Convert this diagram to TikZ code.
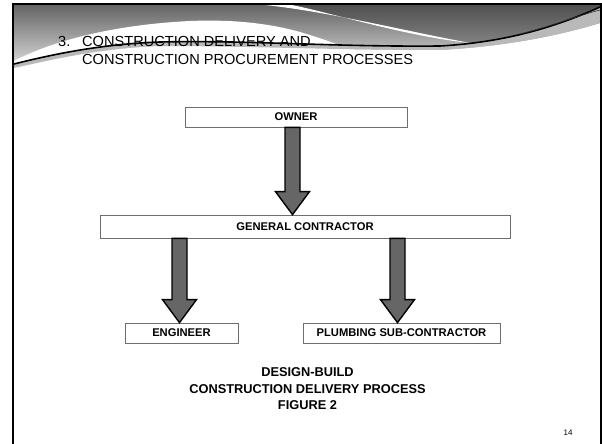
\documentclass[tikz,border=0pt]{standalone}
\usepackage{fontspec}
\setmainfont{Liberation Sans}
\usetikzlibrary{calc}
\definecolor{hdrtop}{RGB}{100,100,100}
\definecolor{hdrbot}{RGB}{222,222,222}
\definecolor{darktop}{RGB}{80,80,80}
\definecolor{darkbot}{RGB}{130,130,130}
\definecolor{bandgray}{RGB}{185,185,185}
\definecolor{arrowfill}{RGB}{102,102,102}
\definecolor{boxline}{RGB}{110,110,110}
\definecolor{titlecol}{RGB}{0,0,0}
\tikzset{
  boxnode/.style={draw=boxline, line width=0.8pt, fill=white, inner sep=0pt,
    font=\fontsize{11.2}{13}\selectfont\bfseries},
  titletext/.style={anchor=base west, inner sep=0pt, text=titlecol,
    font=\fontsize{14.6}{17}\selectfont},
  captext/.style={anchor=base, inner sep=0pt, font=\fontsize{12.8}{15}\selectfont\bfseries},
  blockarrow/.style={fill=arrowfill, draw=black, line width=1.4pt, line join=miter}
}
\newcommand{\blockarr}[3]{%
  \path let \p1=([xshift=#3]#1.south), \p2=(#2.north) in
    [blockarrow] (\x1-7.5pt,\y1) -- (\x1-7.5pt,\y2+23pt) -- (\x1-17pt,\y2+23pt)
    -- (\x1,\y2) -- (\x1+17pt,\y2+23pt) -- (\x1+7.5pt,\y2+23pt) -- (\x1+7.5pt,\y1) -- cycle;}
\begin{document}
\begin{tikzpicture}[x=1pt,y=-1pt]
\useasboundingbox (0,0) rectangle (602,444);
\fill[white] (0,0) rectangle (602,444);
% header base gradient
\shade[top color=hdrtop, bottom color=hdrbot]
  (14,5) -- (600,5) -- (600,23) .. controls (560,35) and (510,46) .. (440,50)
  .. controls (330,50) and (250,46) .. (160,46) .. controls (100,48) and (50,60) .. (14,68) -- cycle;
% white swoosh on the left
\fill[white]
  (14,61) .. controls (50,42) and (110,25) .. (190,21) .. controls (240,19) and (275,25) .. (300,32)
  .. controls (320,38) and (335,43) .. (350,50) -- (160,46) .. controls (100,48) and (50,60) .. (14,68) -- cycle;
% dark swoosh on the right
\shade[top color=darktop, bottom color=darkbot]
  (265,5) -- (600,5) -- (600,7) .. controls (570,20) and (520,38) .. (470,43)
  .. controls (400,30) and (330,12) .. (265,5) -- cycle;
% white stripe
\fill[white]
  (265,5) .. controls (330,12) and (400,30) .. (470,43) .. controls (405,36) and (340,15) .. (292,5) -- cycle;
% light band under the black line
\fill[bandgray]
  (14,64) .. controls (50,55) and (100,44) .. (160,42) .. controls (250,40) and (330,47) .. (440,46)
  .. controls (510,42) and (560,25) .. (600,7) -- (600,23) .. controls (560,35) and (510,46) .. (440,50)
  .. controls (330,50) and (250,46) .. (160,46) .. controls (100,48) and (50,60) .. (14,68) -- cycle;
% black line
\draw[line width=1.6pt, black]
  (14,64) .. controls (50,55) and (100,44) .. (160,42) .. controls (250,40) and (330,47) .. (440,46)
  .. controls (510,42) and (560,25) .. (600,7);
\draw[line width=0.6pt, black!80] (520,34) .. controls (555,25) and (580,15) .. (600,10);
% frame
\draw[line width=2.5pt, black] (13,444) -- (13,4) -- (601,4) -- (601,444);
% title
\node[titletext] (t0) at (58,47) {3.};
\node[titletext] (t1) at (82,47) {CONSTRUCTION DELIVERY AND};
\node[titletext] (t2) at (82,65) {CONSTRUCTION PROCUREMENT PROCESSES};
% boxes
\node[boxnode, minimum width=222pt, minimum height=20pt] (owner) at (296,117) {OWNER};
\node[boxnode, minimum width=410pt, minimum height=23pt] (gc) at (305,226.5) {GENERAL CONTRACTOR};
\node[boxnode, minimum width=113pt, minimum height=20pt] (eng) at (181.5,333) {ENGINEER};
\node[boxnode, minimum width=197pt, minimum height=20pt] (plumb) at (401.5,333) {PLUMBING SUB-CONTRACTOR};
% block arrows
\blockarr{owner}{gc}{-3.5pt}
\blockarr{gc}{eng}{-125.5pt}
\blockarr{gc}{plumb}{92.5pt}
% caption
\node[captext] (c1) at (307.5,376) {DESIGN-BUILD};
\node[captext] (c2) at (307.5,393) {CONSTRUCTION DELIVERY PROCESS};
\node[captext] (c3) at (307.5,409) {FIGURE 2};
\node[anchor=base, inner sep=0pt, font=\fontsize{8}{10}\selectfont, text=titlecol] (pg) at (568,435) {14};
\end{tikzpicture}
\end{document}
